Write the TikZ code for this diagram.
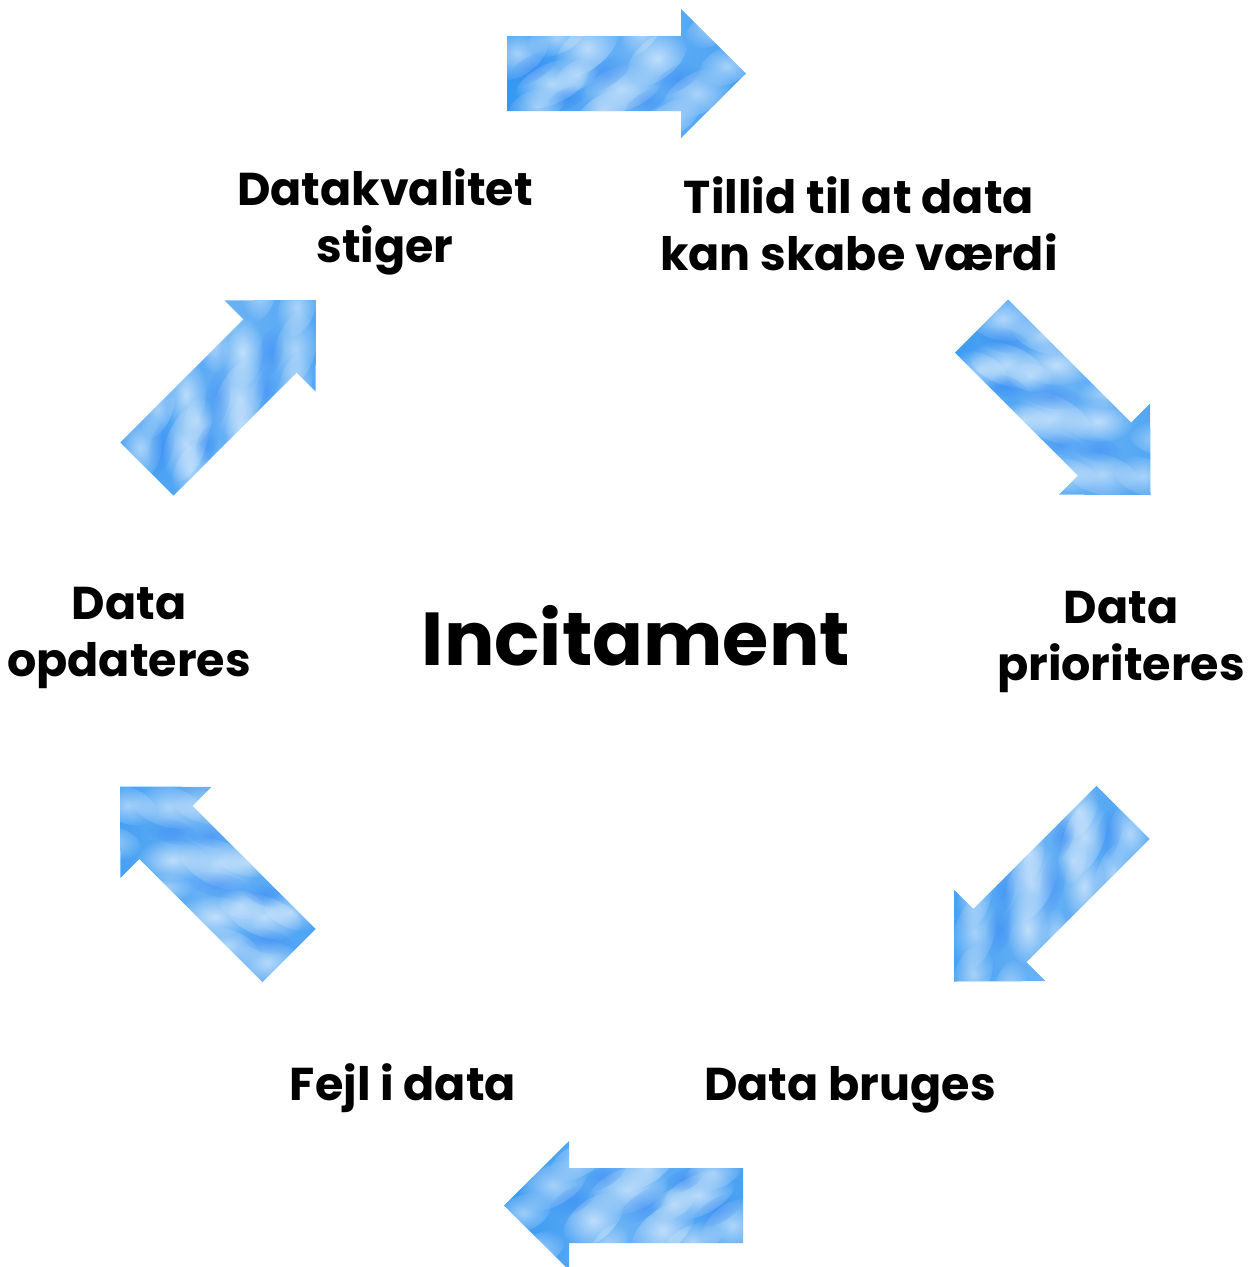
\documentclass[tikz,border=0pt]{standalone}
\usepackage{fontspec}
\setmainfont{Poppins}
\usetikzlibrary{fadings}

\definecolor{skyblue}{RGB}{50,150,242}
\definecolor{skylight}{RGB}{185,218,250}

\tikzfading[name=softblob, inner color=transparent!0, outer color=transparent!100]

\tikzset{
  label text/.style={font=\fontsize{46}{57}\selectfont\bfseries, align=center, inner sep=0pt, anchor=base},
  title text/.style={font=\fontsize{75}{85}\selectfont\bfseries, inner sep=0pt, anchor=base},
  cloud streak/.style={fill=white, path fading=softblob},
  cloud shade/.style={fill=skyblue!80!blue, path fading=softblob},
}

% one block arrow with a sky texture: tail midpoint at #1, direction #2 (degrees)
\newcommand{\skyarrow}[2]{%
  \begin{scope}[shift={#1}, rotate=#2]
    \path[clip] (0,-37.5) -- (174,-37.5) -- (174,-64.5) -- (239,0) -- (174,64.5) -- (174,37.5) -- (0,37.5) -- cycle;
    \shade[left color=skyblue, right color=skyblue!85!skylight, middle color=skylight!40!skyblue]
      (-5,-70) rectangle (245,70);
    \foreach \cx/\cy/\rx/\ry/\ang/\op in {
        10/-20/35/22/35/0.55, 45/10/40/20/25/0.6, 80/-25/38/20/40/0.6,
        115/15/42/22/20/0.55, 150/-15/36/20/40/0.6, 190/20/38/20/30/0.5,
        30/32/30/16/20/0.5, 95/38/32/15/35/0.5, 70/2/24/14/30/0.45,
        220/-8/30/18/25/0.5, 165/45/32/16/30/0.45, 50/-36/32/16/25/0.5,
        205/-45/30/16/30/0.45, 135/-40/28/14/50/0.45, 240/30/28/16/30/0.4}
      \fill[cloud streak, opacity=\op] (\cx,\cy) ellipse[x radius=\rx, y radius=\ry, rotate=\ang];
    \foreach \cx/\cy/\rx/\ry/\ang in {
        25/-5/28/12/30, 100/0/30/12/35, 170/5/26/12/30, 60/25/22/10/25, 140/28/24/10/30}
      \fill[cloud shade, opacity=0.35] (\cx,\cy) ellipse[x radius=\rx, y radius=\ry, rotate=\ang];
  \end{scope}}

\begin{document}
\begin{tikzpicture}[x=1pt, y=-1pt]
  \useasboundingbox (0,0) rectangle (1257,1267);

  % the six arrows of the cycle
  \skyarrow{(507,73.5)}{0}
  \skyarrow{(981.5,326)}{-45}
  \skyarrow{(1123,812.5)}{-135}
  \skyarrow{(743,1205.5)}{180}
  \skyarrow{(289,955.5)}{135}
  \skyarrow{(147,469)}{45}

  % labels (base anchor sits on the last line)
  \node[title text] (incit) at (636,665) {Incitament};
  \node[label text] (kval) at (385,262) {Datakvalitet\\stiger};
  \node[label text] (tillid) at (859,270) {Tillid til at data\\kan skabe værdi};
  \node[label text] (prio) at (1121,680) {Data\\prioriteres};
  \node[label text] (bruges) at (850,1100) {Data bruges};
  \node[label text] (fejl) at (403,1100) {Fejl i data};
  \node[label text] (opd) at (129,676) {Data\\opdateres};
\end{tikzpicture}
\end{document}
